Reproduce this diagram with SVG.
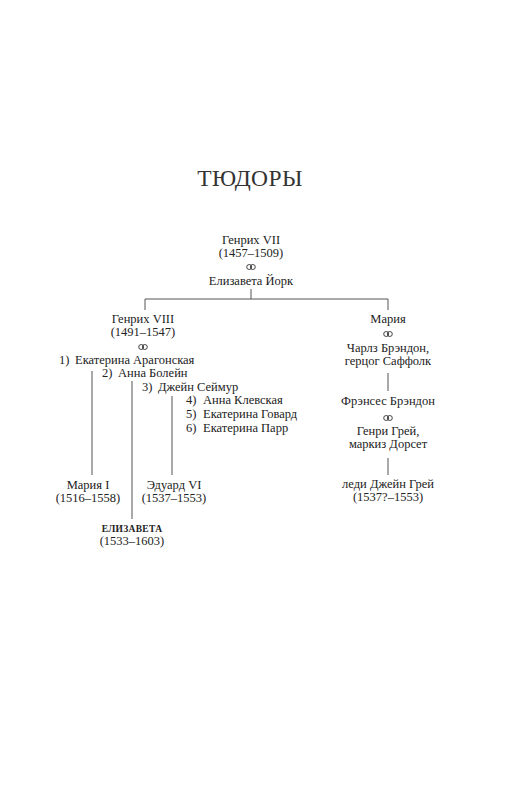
<svg xmlns="http://www.w3.org/2000/svg" width="527" height="800" viewBox="0 0 527 800">
<style>
text{font-family:"Liberation Serif","Times New Roman",serif;font-size:12.5px;fill:#222;text-anchor:middle}
.l{text-anchor:start}
.title{font-size:23.5px;letter-spacing:0.4px;fill:#333}
.b{font-weight:bold;font-size:9.5px;letter-spacing:0.3px}
.c line{stroke:#555;stroke-width:1}
</style>
<defs>
<g id="ring" fill="none" stroke="#333" stroke-width="0.9">
<circle cx="-1.8" cy="0" r="2.5"/><circle cx="1.8" cy="0" r="2.5"/>
</g>
</defs>
<rect width="527" height="800" fill="#fff"/>
<text class="title" x="250" y="186">ТЮДОРЫ</text>
<g id="henry7">
<text x="251" y="244">Генрих VII</text>
<text x="251" y="257">(1457–1509)</text>
<use href="#ring" x="251" y="267"/>
<text x="251" y="285">Елизавета Йорк</text>
</g>
<g id="henry8">
<text x="143" y="322.5">Генрих VIII</text>
<text x="143" y="336">(1491–1547)</text>
<use href="#ring" x="143" y="347"/>
<text class="l" x="59" y="364">1)</text><text class="l" x="75" y="364">Екатерина Арагонская</text>
<text class="l" x="102" y="377">2)</text><text class="l" x="118" y="377">Анна Болейн</text>
<text class="l" x="142" y="391">3)</text><text class="l" x="158" y="391">Джейн Сеймур</text>
<text class="l" x="186" y="404">4)</text><text class="l" x="203" y="404">Анна Клевская</text>
<text class="l" x="186" y="418">5)</text><text class="l" x="203" y="418">Екатерина Говард</text>
<text class="l" x="186" y="432">6)</text><text class="l" x="203" y="432">Екатерина Парр</text>
</g>
<g id="maria">
<text x="388" y="323">Мария</text>
<use href="#ring" x="388" y="334"/>
<text x="388" y="352">Чарлз Брэндон,</text>
<text x="388" y="365">герцог Саффолк</text>
</g>
<g id="frances">
<text x="388" y="405">Фрэнсес Брэндон</text>
<use href="#ring" x="388" y="418"/>
<text x="388" y="435">Генри Грей,</text>
<text x="388" y="448">маркиз Дорсет</text>
</g>
<g id="jane">
<text x="388" y="488">леди Джейн Грей</text>
<text x="388" y="501">(1537?–1553)</text>
</g>
<g id="mary1">
<text x="88" y="489">Мария I</text>
<text x="88" y="502">(1516–1558)</text>
</g>
<g id="edward6">
<text x="174" y="489">Эдуард VI</text>
<text x="174" y="502">(1537–1553)</text>
</g>
<g id="elizabeth">
<text class="b" x="132" y="532">ЕЛИЗАВЕТА</text>
<text x="132" y="545">(1533–1603)</text>
</g>
<g class="c" id="connectors">
<line x1="251" y1="289" x2="251" y2="299"/>
<line x1="145" y1="299" x2="388" y2="299"/>
<line x1="145" y1="299" x2="145" y2="310"/>
<line x1="388" y1="299" x2="388" y2="310"/>
<line x1="92" y1="371" x2="92" y2="475"/>
<line x1="132" y1="381" x2="132" y2="519"/>
<line x1="172" y1="396" x2="172" y2="475"/>
<line x1="388" y1="373" x2="388" y2="391"/>
<line x1="388" y1="458" x2="388" y2="475"/>
</g>
</svg>
